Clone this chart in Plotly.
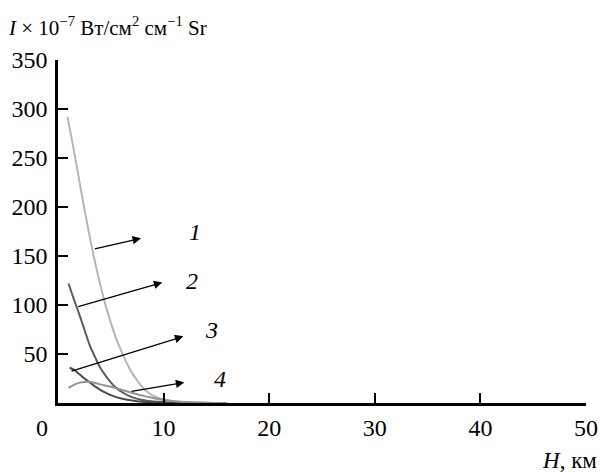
import plotly.graph_objects as go

# Data (H in km, I in 1e-7 W/cm2 cm-1 sr)
h1 = [0.9, 1.5, 2, 2.5, 3, 3.5, 4, 4.5, 5, 5.5, 6, 6.5, 7, 7.5, 8, 8.5, 9, 10, 11, 12, 14, 16]
i1 = [292, 258, 228, 198, 170, 144, 121, 100, 82, 66, 53, 41, 31, 23, 16, 11, 7.5, 3.5, 1.8, 1, 0.3, 0]
h2 = [1, 1.5, 2, 2.5, 3, 3.5, 4, 4.5, 5, 5.5, 6, 7, 8, 9, 10, 12, 13]
i2 = [122, 106, 91, 75, 59, 47, 36, 28, 21, 15.5, 11.5, 6, 3, 1.5, 0.8, 0.2, 0]
h3 = [1.1, 1.5, 2, 2.5, 3, 3.5, 4, 4.5, 5, 6, 7, 8, 10, 12, 14]
i3 = [36, 34, 29.5, 25, 21, 17, 13.5, 10.5, 8, 4.5, 2.5, 1.3, 0.4, 0.1, 0]
h4 = [1, 1.5, 2, 2.5, 3, 3.5, 4, 5, 6, 7, 8, 9, 10, 11, 12, 14, 16]
i4 = [15.5, 18.5, 20.5, 21.5, 21.5, 20.5, 19, 16.5, 13.5, 10.5, 7.5, 5, 3, 1.8, 1, 0.3, 0]

x_ticks = [10, 20, 30, 40, 50]
y_ticks = [50, 100, 150, 200, 250, 300, 350]

labels = ["1", "2", "3", "4"]
arrow_tail = [(3.34, 157), (1.77, 98), (1.14, 32), (6.82, 11.5)]
arrow_head = [(7.86, 168), (9.88, 123), (11.87, 68), (11.96, 21)]
label_pos = [(12.97, 174), (12.66, 124), (14.56, 74), (15.34, 25)]

series = [(h1, i1, "#b5b5b5"), (h2, i2, "#5c5c5c"), (h3, i3, "#4a4a4a"), (h4, i4, "#929292")]

FONT = "Liberation Serif, Times New Roman, serif"
TF = dict(family=FONT, size=24, color="black")
fig = go.Figure()
for h, i, c in series:
    fig.add_trace(go.Scatter(x=h, y=i, mode="lines", line=dict(color=c, width=2, shape="spline"),
                             showlegend=False, hoverinfo="skip"))

for lab, (tx, ty), (hx, hy), (lx, ly) in zip(labels, arrow_tail, arrow_head, label_pos):
    fig.add_annotation(x=hx, y=hy, ax=tx, ay=ty, xref="x", yref="y", axref="x", ayref="y",
                       text="", showarrow=True, arrowhead=2, arrowsize=1.3, arrowwidth=1.3,
                       arrowcolor="black")
    fig.add_annotation(x=lx, y=ly, xref="x", yref="y", text="<i>" + lab + "</i>", showarrow=False,
                       font=dict(family=FONT, size=24, color="black"))

fig.add_annotation(x=0, y=0, xref="paper", yref="paper", text="0", showarrow=False,
                   xanchor="center", yanchor="middle", xshift=-16, yshift=-25, font=TF)
fig.add_annotation(x=1.0, y=0, xref="paper", yref="paper", xanchor="right", yanchor="middle",
                   text="<i>H</i>, км", showarrow=False, yshift=-57, xshift=13,
                   font=dict(family=FONT, size=23, color="black"))
fig.add_annotation(x=0, y=1, xref="paper", yref="paper", xanchor="left", yanchor="bottom",
                   text="<i>I</i> × 10<sup>−7</sup> Вт/см<sup>2</sup> см<sup>−1</sup> Sr",
                   showarrow=False, xshift=-52, yshift=18,
                   font=dict(family=FONT, size=21, color="black"))

fig.update_layout(
    width=600, height=472,
    margin=dict(l=58, r=14, t=60, b=69, autoexpand=False),
    paper_bgcolor="white", plot_bgcolor="white",
    font=TF,
    xaxis=dict(range=[0, 50], tickvals=x_ticks, ticks="inside", ticklen=10, tickwidth=2,
               tickcolor="black", showline=True, linecolor="black", linewidth=2.5,
               showgrid=False, zeroline=False, ticklabelstandoff=1, tickfont=TF,
               automargin=False),
    yaxis=dict(range=[0, 350], tickvals=y_ticks, ticks="inside", ticklen=10, tickwidth=2,
               tickcolor="black", showline=True, linecolor="black", linewidth=2.5,
               showgrid=False, zeroline=False, ticklabelstandoff=3, tickfont=TF,
               automargin=False),
)

fig.write_html("out.html")
